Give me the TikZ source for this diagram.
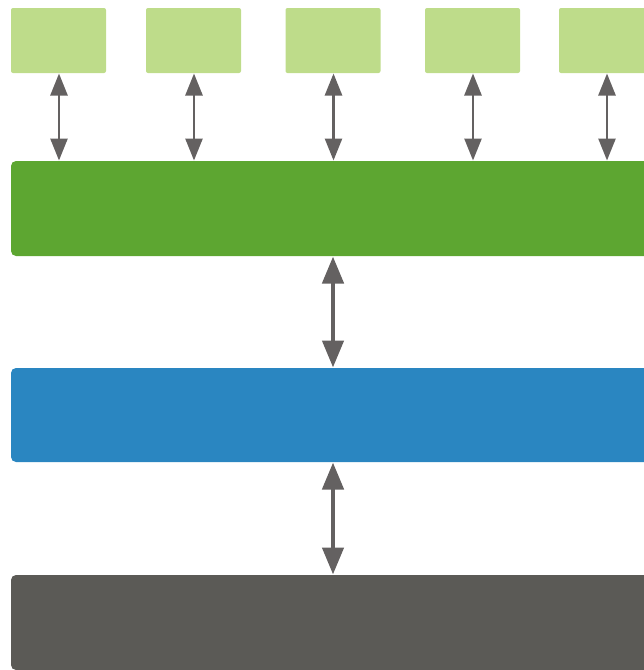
\documentclass[tikz,border=0pt]{standalone}
\usetikzlibrary{arrows.meta}
\definecolor{lightgreen}{HTML}{BEDC8A}
\definecolor{midgreen}{HTML}{5DA631}
\definecolor{midblue}{HTML}{2A86C1}
\definecolor{darkgrey}{HTML}{5B5A56}
\definecolor{arrowgrey}{HTML}{646161}
\tikzset{
  topbox/.style={fill=lightgreen, draw=none, rounded corners=2pt, inner sep=0pt, outer sep=0pt,
    minimum width=95pt, minimum height=65pt},
  bar/.style={draw=none, rounded corners=5pt, inner sep=0pt, outer sep=0pt,
    minimum width=645pt, minimum height=95pt, anchor=west},
  smallarr/.style={arrowgrey, line width=2.6pt,
    {Triangle[width=17pt,length=22pt]}-{Triangle[width=17pt,length=22pt]}, shorten <=0.5pt, shorten >=0.5pt},
  bigarr/.style={arrowgrey, line width=4.5pt,
    {Triangle[width=21pt,length=27pt]}-{Triangle[width=21pt,length=27pt]}, shorten <=0.5pt, shorten >=0.5pt}
}
\begin{document}
\begin{tikzpicture}[x=1pt,y=-1pt]
\useasboundingbox (0,0) rectangle (644,670);
% top boxes
\node[topbox] (t1) at (58.5,40.5) {};
\node[topbox] (t2) at (193.5,40.5) {};
\node[topbox] (t3) at (333,40.5) {};
\node[topbox] (t4) at (472.5,40.5) {};
\node[topbox] (t5) at (606.5,40.5) {};
% bars
\node[bar, fill=midgreen] (g) at (11,208.5) {};
\node[bar, fill=midblue, minimum height=94pt] (b) at (11,415) {};
\node[bar, fill=darkgrey] (d) at (11,622.5) {};
% small arrows
\foreach \i/\dx in {1/0.5,2/0.5,3/0.5,4/0.5,5/0.5}{
  \draw[smallarr] ([xshift=\dx pt]t\i.south) -- ([xshift=\dx pt]t\i.south |- g.north);
}
% big arrows
\coordinate (m1) at (333,256);
\coordinate (m2) at (333,368);
\coordinate (m3) at (333,462);
\coordinate (m4) at (333,575);
\draw[bigarr] (g.south -| m1) -- (b.north -| m2);
\draw[bigarr] (b.south -| m3) -- (d.north -| m4);
\end{tikzpicture}
\end{document}
